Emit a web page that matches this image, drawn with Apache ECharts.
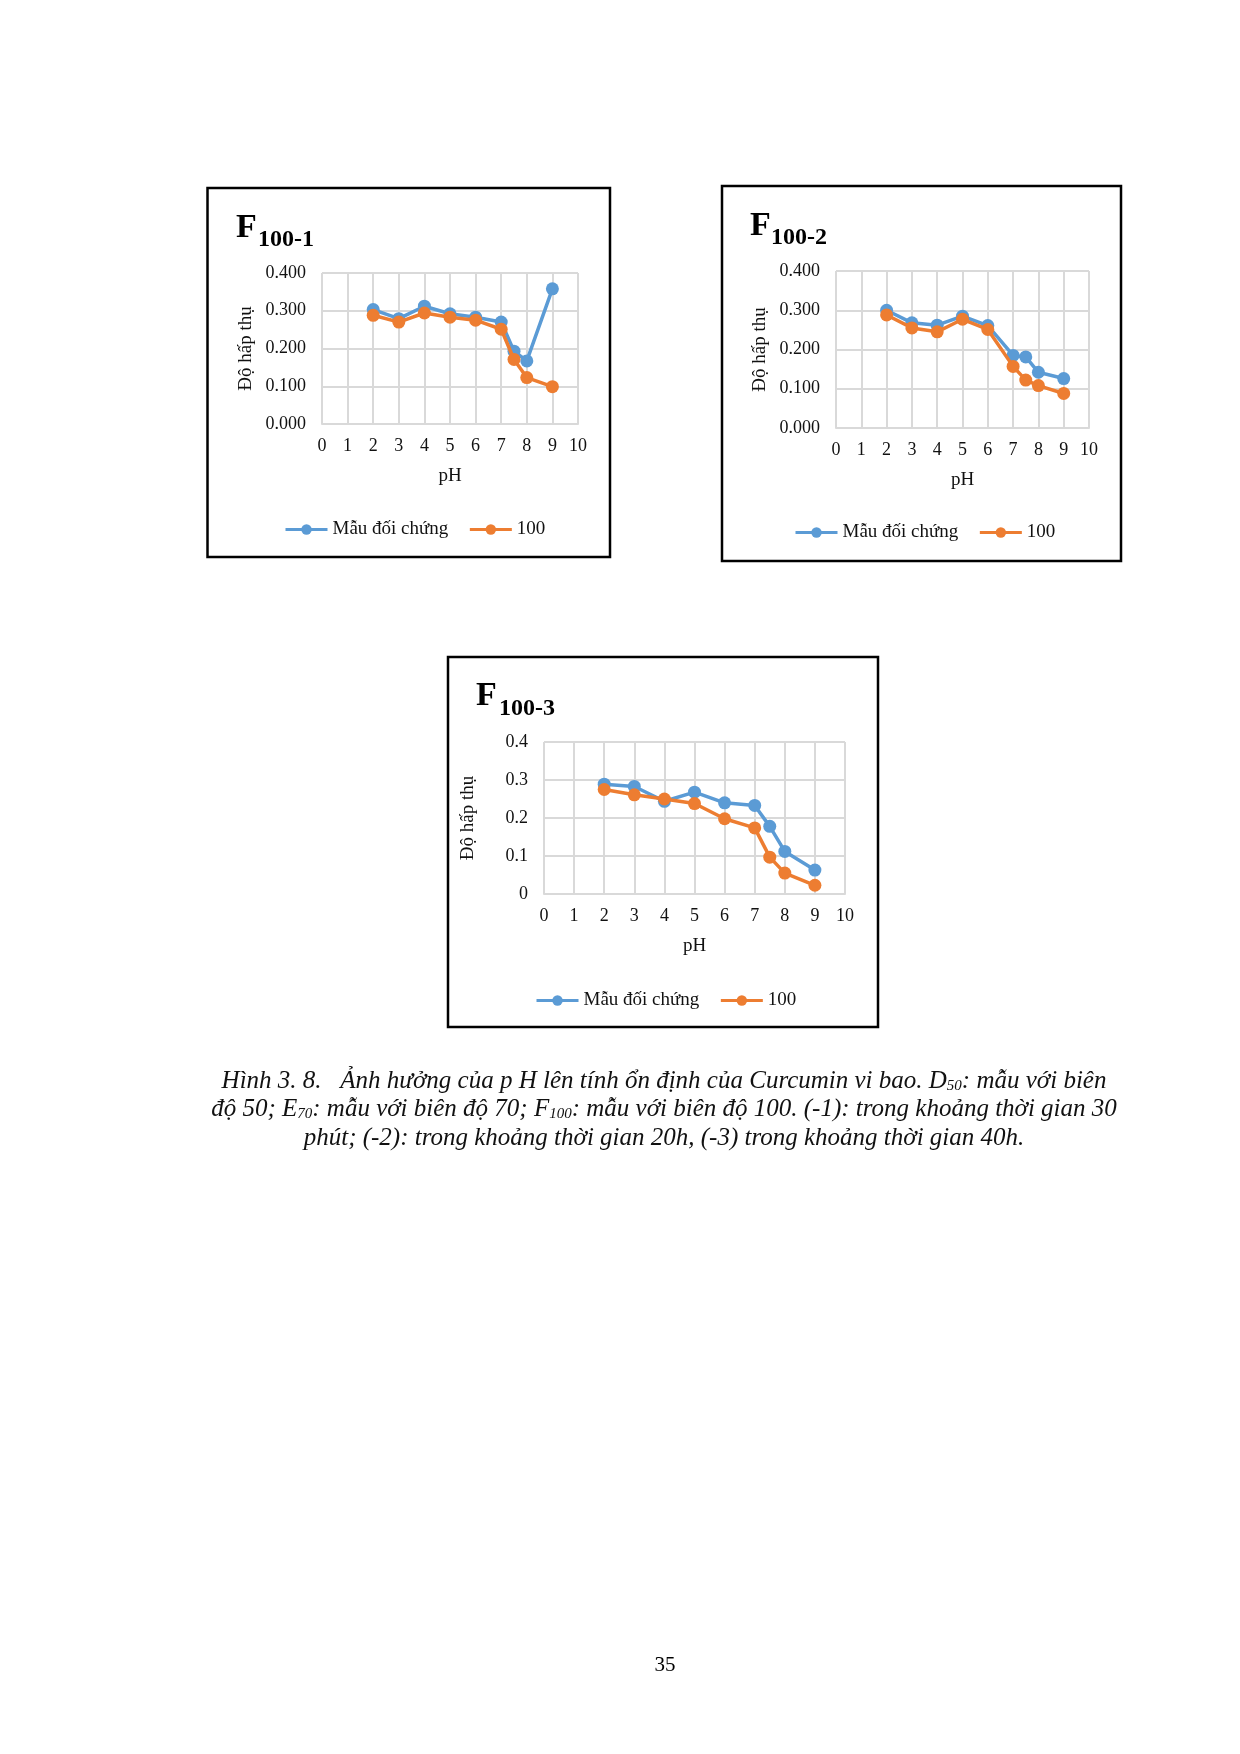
<!DOCTYPE html>
<html>
<head>
<meta charset="utf-8">
<script src="https://cdn.jsdelivr.net/npm/echarts@6/dist/echarts.min.js"></script>
<style>
html,body{margin:0;padding:0;background:#fff;}
#page{width:1240px;height:1754px;}
</style>
</head>
<body>
<div id="page"></div>
<script>
// ---- data ----
const phValues = [2, 3, 4, 5, 6, 7, 7.5, 8, 9];
const seriesNames = ['Mẫu đối chứng', '100'];
const xTicks = [0, 1, 2, 3, 4, 5, 6, 7, 8, 9, 10];
const chartTitles = ['100-1', '100-2', '100-3'];

const f1Control = [0.303, 0.279, 0.312, 0.292, 0.283, 0.270, 0.193, 0.167, 0.358];
const f1Sample  = [0.288, 0.270, 0.294, 0.283, 0.275, 0.251, 0.171, 0.123, 0.099];
const f2Control = [0.300, 0.268, 0.262, 0.285, 0.261, 0.185, 0.181, 0.142, 0.126];
const f2Sample  = [0.288, 0.255, 0.245, 0.277, 0.251, 0.157, 0.122, 0.108, 0.088];
const f3Control = [0.289, 0.283, 0.244, 0.268, 0.240, 0.233, 0.178, 0.112, 0.063];
const f3Sample  = [0.275, 0.261, 0.250, 0.238, 0.198, 0.174, 0.097, 0.055, 0.023];

const captionLines = [
  ['Hình 3. 8.   Ảnh hưởng của p H lên tính ổn định của Curcumin vi bao. D', '50', ': mẫu với biên'],
  ['độ 50; E', '70', ': mẫu với biên độ 70; F', '100', ': mẫu với biên độ 100. (-1): trong khoảng thời gian 30'],
  ['phút; (-2): trong khoảng thời gian 20h, (-3) trong khoảng thời gian 40h.']
];
const pageNumber = '35';

// ---- styling / layout ----
const FONT = "'Liberation Serif', 'Times New Roman', serif";
const TXT = '#111';
const BLUE = '#5B9BD5';
const ORANGE = '#ED7D31';
const GRIDC = '#d9d9d9';

const panels = [
  { box: [207.5, 188, 402.5, 369], grid: { left: 322, top: 273, width: 256, height: 151 },
    fmt: v => v.toFixed(3), F: [236, 228], S: [258, 240], legend: [284, 520], data: [f1Control, f1Sample] },
  { box: [722, 186, 399, 375], grid: { left: 836, top: 271, width: 253, height: 157 },
    fmt: v => v.toFixed(3), F: [750, 226], S: [771, 238], legend: [794, 523], data: [f2Control, f2Sample] },
  { box: [448, 657, 430, 370], grid: { left: 544, top: 742, width: 301, height: 152 },
    fmt: v => (v === 0 ? '0' : v.toFixed(1)), F: [476, 696], S: [499, 709], legend: [535, 991], data: [f3Control, f3Sample] }
];

const pairs = arr => arr.map((v, i) => [phValues[i], v]);

const option = {
  animation: false,
  backgroundColor: '#fff',
  grid: panels.map(p => Object.assign({ containLabel: false }, p.grid)),
  xAxis: panels.map((p, i) => ({
    gridIndex: i, type: 'value', min: xTicks[0], max: xTicks[xTicks.length - 1], interval: 1,
    name: 'pH', nameLocation: 'middle', nameGap: 43,
    nameTextStyle: { fontFamily: FONT, fontSize: 19, color: TXT },
    axisLabel: { margin: 13, fontFamily: FONT, fontSize: 18, color: TXT },
    axisLine: { show: true, lineStyle: { color: GRIDC, width: 2 } },
    axisTick: { show: false },
    splitLine: { show: true, lineStyle: { color: GRIDC, width: 2 } }
  })),
  yAxis: panels.map((p, i) => ({
    gridIndex: i, type: 'value', min: 0, max: 0.4, interval: 0.1,
    name: 'Độ hấp thụ', nameLocation: 'middle', nameRotate: 90, nameGap: 66,
    nameTextStyle: { fontFamily: FONT, fontSize: 19, color: TXT },
    axisLabel: { margin: 16, fontFamily: FONT, fontSize: 18, color: TXT, formatter: p.fmt },
    axisLine: { show: false }, axisTick: { show: false },
    splitLine: { show: true, lineStyle: { color: GRIDC, width: 2 } }
  })),
  legend: panels.map(p => ({
    data: seriesNames, left: p.legend[0], top: p.legend[1], padding: 0,
    itemWidth: 42, itemHeight: 13, itemGap: 20, selectedMode: false,
    lineStyle: { width: 3 },
    textStyle: { fontFamily: FONT, fontSize: 19, color: TXT }
  })),
  series: [],
  graphic: []
};

panels.forEach((p, i) => {
  [0, 1].forEach(k => {
    option.series.push({
      type: 'line', name: seriesNames[k], xAxisIndex: i, yAxisIndex: i,
      data: pairs(p.data[k]), symbol: 'circle', symbolSize: 13,
      lineStyle: { width: 3.5, color: k ? ORANGE : BLUE },
      itemStyle: { color: k ? ORANGE : BLUE },
      z: 3 + k
    });
  });
  option.graphic.push({
    type: 'rect', shape: { x: p.box[0], y: p.box[1], width: p.box[2], height: p.box[3] },
    style: { fill: 'none', stroke: '#000', lineWidth: 2.5 }, z: 100
  });
  option.graphic.push({
    type: 'text', x: p.F[0], y: p.F[1],
    style: { text: 'F', font: 'bold 34px ' + FONT, fill: '#000', textVerticalAlign: 'middle', textAlign: 'left' }
  });
  option.graphic.push({
    type: 'text', x: p.S[0], y: p.S[1],
    style: { text: chartTitles[i], font: 'bold 24px ' + FONT, fill: '#000', textVerticalAlign: 'middle', textAlign: 'left' }
  });
});

// caption
const capY = [1080, 1108, 1137];
captionLines.forEach((parts, li) => {
  const txt = parts.map((s, j) => (j % 2 === 1 ? '{sub|' + s + '}' : '{n|' + s + '}')).join('');
  option.graphic.push({
    type: 'text', x: 664, y: capY[li],
    style: {
      text: txt, textAlign: 'center', textVerticalAlign: 'middle', fill: '#111',
      rich: {
        n: { fontFamily: FONT, fontStyle: 'italic', fontSize: 25, color: '#111', verticalAlign: 'bottom', lineHeight: 28 },
        sub: { fontFamily: FONT, fontStyle: 'italic', fontSize: 15, color: '#111', verticalAlign: 'bottom', lineHeight: 22 }
      }
    }
  });
});
option.graphic.push({
  type: 'text', x: 665, y: 1665,
  style: { text: pageNumber, font: '21px ' + FONT, fill: '#000', textAlign: 'center', textVerticalAlign: 'middle' }
});

const chart = echarts.init(document.getElementById('page'), null, { renderer: 'canvas', width: 1240, height: 1754 });
chart.setOption(option);
</script>
</body>
</html>
